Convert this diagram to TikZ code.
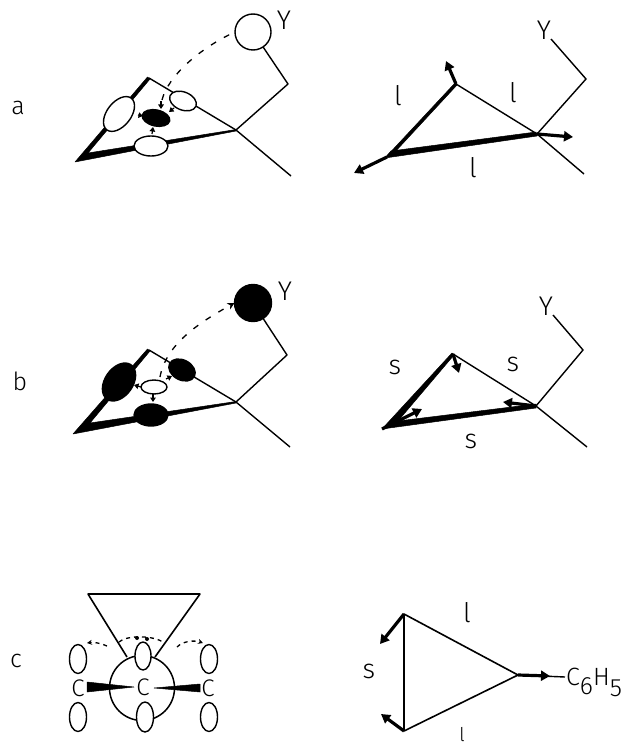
\documentclass[tikz,border=0pt]{standalone}
\usepackage{fontspec}
\setmainfont{Fira Sans Light}
\usetikzlibrary{arrows.meta,shapes.geometric}
\tikzset{
  bond/.style={line width=1.4pt,line join=round},
  wedge/.style={fill=black,draw=black,line width=0.5pt,line join=round},
  orb/.style={ellipse,draw=black,line width=1.4pt,fill=white,inner sep=0pt,outer sep=0pt},
  orbfill/.style={orb,fill=black},
  orbrad/.style 2 args={minimum width=#1*2pt,minimum height=#2*2pt},
  dashcurve/.style={line width=1.3pt,dash pattern=on 6pt off 9pt},
  tinyarrow/.style={line width=1.2pt,-{Triangle[length=4.5pt,width=5.5pt]}},
  force/.style={line width=3.2pt,-{Triangle[length=9pt,width=10pt]}},
  lab/.style={font=\fontsize{27}{27}\selectfont,inner sep=0pt},
  tag/.style={font=\fontsize{25}{25}\selectfont,inner sep=0pt},
  atom/.style={font=\fontsize{24}{24}\selectfont,inner sep=0pt}
}
\begin{document}
\begin{tikzpicture}[x=1pt,y=-1pt]
\useasboundingbox (0,0) rectangle (625,746);
% ----- panel labels
\node[tag] (la) at (18,108) {a};
\node[tag] (lb) at (20,381) {b};
\node[tag] (lc) at (16,661) {c};
% ----- a left
\coordinate (a1) at (75,162);\coordinate (a2) at (149,78);\coordinate (a3) at (236,130);
\coordinate (a4) at (291,176);\coordinate (a5) at (288,84);
\node[orb,orbrad={18}{18}] (aY) at (253,32) {};
\node[lab] (aYl) at (284,20) {Y};
\draw[bond] (a2)--(a3)--(a4);
\draw[bond] (a3)--(a5)--(aY);
\fill[wedge] (a1)--(147.5,77)--(150,79)--(88,153)--(236,129.5)--(236,131)--cycle;
\node[orb,orbrad={20}{12},rotate=52] (aO1) at (119,114) {};
\node[orb,orbrad={14}{9},rotate=-22] (aO2) at (183,101) {};
\node[orb,orbrad={17}{10}] (aO3) at (151,146) {};
\node[orbfill,orbrad={14}{8},rotate=-12] (aO4) at (156,118) {};
\draw[dashcurve] (162,100) .. controls (168,76) and (200,48) .. (aY.west);
\draw[tinyarrow] (161,101)--(161,109);
\draw[tinyarrow] (138,115)--(143,116);
\draw[tinyarrow] (152,134)--(153,127);
\draw[tinyarrow] (174,108)--(169,112);
% ----- a right
\coordinate (b1) at (387,157);\coordinate (b2) at (456,84);\coordinate (b3) at (537,134);
\coordinate (b4) at (584,174);\coordinate (b5) at (586,79);\coordinate (b6) at (551,39);
\coordinate (b7) at (446,61);\coordinate (b8) at (573,137);\coordinate (b9) at (354,173);
\node[lab] (bY) at (544,30) {Y};
\draw[bond] (b2)--(b3)--(b4);
\draw[bond] (b3)--(b5)--(b6);
\fill[wedge] (385,158)--(455,83)--(457,85)--(394,153)--cycle;
\fill[wedge] (385,158)--(537,136)--(536,132)--(391,151)--cycle;
\draw[force] (b2)--(b7);
\draw[force] (b3)--(b8);
\draw[force] (b1)--(b9);
\node[lab] (bl1) at (398,96) {l};
\node[lab] (bl2) at (513,93) {l};
\node[lab] (bl3) at (473,168) {l};
% ----- b left
\coordinate (c1) at (73,434);\coordinate (c2) at (149,350);\coordinate (c3) at (236,402);
\coordinate (c4) at (290,447);\coordinate (c5) at (287,355);
\node[orbfill,orbrad={18.5}{18.5}] (cY) at (253,303) {};
\node[lab] (cYl) at (285,291) {Y};
\draw[bond] (c2)--(c3)--(c4);
\draw[bond] (c3)--(c5)--(cY);
\fill[wedge] (c1)--(147.5,349)--(150,351)--(90,423)--(236,401.5)--(236,403)--cycle;
\node[orbfill,orbrad={21}{14},rotate=55] (cO1) at (119,382) {};
\node[orbfill,orbrad={14}{10},rotate=-28] (cO2) at (182,370) {};
\node[orbfill,orbrad={17}{11}] (cO3) at (151,415) {};
\node[orb,orbrad={13}{7}] (cO4) at (154,387) {};
\draw[dashcurve,-{Stealth[length=7pt,width=7pt]}] (160,377) .. controls (166,344) and (200,322) .. (cY.west);
\draw[tinyarrow] (cO4.west)--(134,385);
\draw[tinyarrow] (166,379)--(172,376);
\draw[tinyarrow] (153,394)--(153,402);
% ----- b right
\coordinate (d1) at (382,429);\coordinate (d2) at (453,354);\coordinate (d3) at (536,406);
\coordinate (d4) at (587,447);\coordinate (d5) at (583,350);\coordinate (d6) at (553,315);
\coordinate (d7) at (459,373);\coordinate (d8) at (503,402);\coordinate (d9) at (422,409);
\node[lab] (dY) at (546,306) {Y};
\draw[bond] (d2)--(d3)--(d4);
\draw[bond] (d3)--(d5)--(d6);
\fill[wedge] (d1)--(452,353)--(454,355)--(398,421)--cycle;
\fill[wedge] (d1)--(536,408)--(536,404)--(398,421)--cycle;
\draw[force] (d2)--(d7);
\draw[force] (d3)--(d8);
\draw[force] (d1)--(d9);
\node[lab] (ds1) at (395,367) {s};
\node[lab] (ds2) at (513,364) {s};
\node[lab] (ds3) at (471,441) {s};
% ----- c left
\coordinate (e1) at (88,594);\coordinate (e2) at (200,594);\coordinate (e3) at (127,657);\coordinate (e4) at (155,657);
\draw[bond,line width=1.6pt] (e3)--(e1)--(e2)--(e4);
\node[circle,draw=black,line width=1.5pt,minimum size=65pt,inner sep=0pt] (ering) at (142,688) {};
\node[orb,orbrad={8}{14}] (eT) at (143,656) {};
\node[orb,orbrad={8.5}{15}] (eB) at (145,717) {};
\node[orb,orbrad={8.5}{14.5}] (eLT) at (78,659) {};
\node[orb,orbrad={8.5}{14.5}] (eLB) at (78,717) {};
\node[orb,orbrad={8.5}{14.5}] (eRT) at (209,659) {};
\node[orb,orbrad={8.5}{14.5}] (eRB) at (209,717) {};
\node[atom] (eC1) at (78,688) {C};
\node[atom] (eC2) at (143,687) {C};
\node[atom] (eC3) at (208,688) {C};
\fill[wedge] (87,682)--(134,687)--(87,692)--cycle;
\fill[wedge] (154,688)--(200,684)--(200,692)--cycle;
\draw[dashcurve,dash pattern=on 4pt off 4pt,-{Stealth[length=5pt,width=5pt]}] (107,646) .. controls (100,643) and (94,642) .. (87,643);
\draw[dashcurve,dash pattern=on 4pt off 4pt,-{Stealth[length=5pt,width=5pt]}] (177,647) .. controls (183,641) and (194,640) .. (203,643);
\draw[dashcurve,dash pattern=on 4pt off 4pt] (119,642) .. controls (126,635) and (155,635) .. (164,643);
\fill (137,638) circle (2pt);
\fill (147,639) circle (2pt);
% ----- c right
\coordinate (f1) at (404,614);\coordinate (f2) at (404,731);\coordinate (f3) at (518,675);
\coordinate (f4) at (565,677);\coordinate (f5) at (380,644);\coordinate (f6) at (381,714);\coordinate (f7) at (550,676);
\draw[bond,line width=1.6pt] (f1)--(f2)--(f3)--cycle;
\draw[bond] (f3)--(f4);
\draw[force] (f1)--(f5);
\draw[force] (f2)--(f6);
\draw[force] (f3)--(f7);
\node[tag,anchor=base west] (fC) at (566,685) {C\raisebox{-9pt}{6}H\raisebox{-11pt}{5}};
\node[lab] (fl1) at (467,613) {l};
\node[lab] (fs) at (369,671) {s};
\node[font=\fontsize{19}{19}\selectfont,inner sep=0pt] (fl2) at (462,735) {l};
\end{tikzpicture}
\end{document}
